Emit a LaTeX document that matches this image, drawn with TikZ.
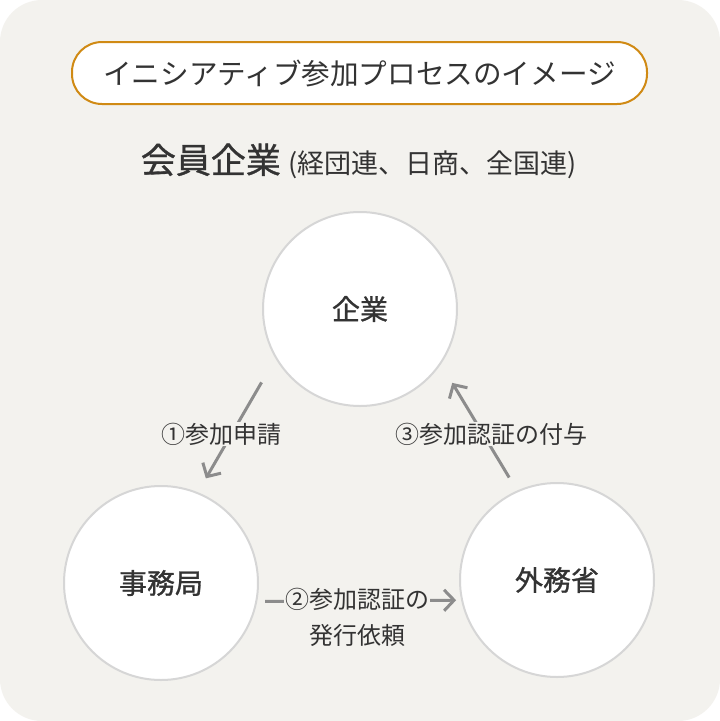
\documentclass[tikz,border=0pt]{standalone}
\usepackage{fontspec}
\setmainfont{Noto Sans CJK JP}
\newfontfamily\cjkmid[FakeBold=1]{Noto Sans CJK JP}
\usetikzlibrary{arrows.meta}
\definecolor{bgpanel}{HTML}{F3F2EE}
\definecolor{ink}{HTML}{333333}
\definecolor{rim}{HTML}{D6D6D6}
\definecolor{flowgray}{HTML}{8C8C8C}
\definecolor{titleorange}{HTML}{D08A14}

\begin{document}
\begin{tikzpicture}[x=1pt,y=-1pt,
  party/.style={circle, draw=rim, line width=2pt, fill=white, minimum size=194pt,
    inner sep=0pt, outer sep=0pt, text=ink, font=\cjkmid\fontsize{28}{32}\selectfont},
  flow/.style={draw=flowgray, line width=3pt, -{Straight Barb[length=10pt,width=21pt]}},
  steplabel/.style={fill=bgpanel, inner sep=1pt, text=ink, font=\fontsize{24}{36}\selectfont}]
\useasboundingbox (0,0) rectangle (720,721);
\fill [white] (0,0) rectangle (720,721);
\fill [bgpanel, rounded corners=42pt] (0,0) rectangle (720,721);
% title and heading
\node (title) [draw=titleorange, line width=2pt, fill=white, rounded corners=30pt,
  minimum width=575pt, minimum height=62pt, text=ink, font=\fontsize{28.6}{32}\selectfont]
  at (359.5,73) {イニシアティブ参加プロセスのイメージ};
\node (member) [text=ink] at (359,161)
  {{\cjkmid\fontsize{35}{40}\selectfont 会員企業}\hspace{8pt}{\fontsize{27}{36}\selectfont (経団連、日商、全国連)}};
% the three parties
\node (kigyo) [party] at (360,309) {企業};
\node (jimu) [party] at (161,583) {事務局};
\node (gaimu) [party] at (557,580) {外務省};
% steps
\draw [flow, shorten <=28.8pt, shorten >=17pt] (kigyo.210.6) -- (jimu.68.7);
\draw [flow, shorten <=16.2pt, shorten >=22.9pt] (gaimu.114.8) -- (kigyo.326);
\draw [flow, shorten <=9pt, shorten >=6pt] (jimu.-11) -- (gaimu.192.5);
\node (apply) [steplabel] at (221,434) {①参加申請};
\node (grant) [steplabel] at (491,434) {③参加認証の付与};
\node (request) [steplabel, align=center] at (357,617) {②参加認証の\\発行依頼};
\end{tikzpicture}
\end{document}
